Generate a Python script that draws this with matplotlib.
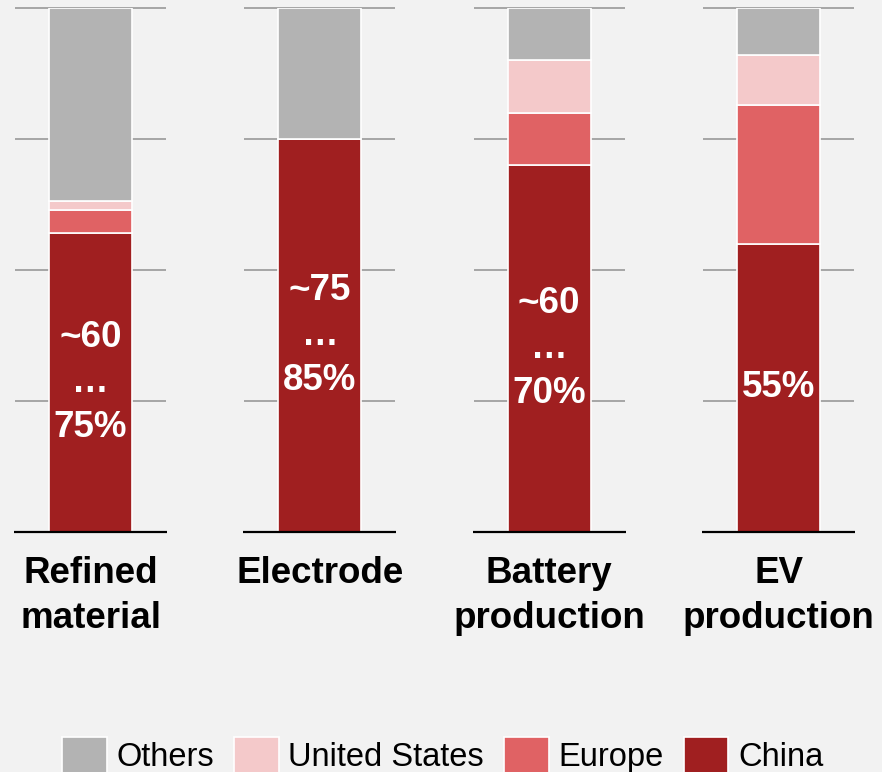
import numpy as np
import matplotlib.pyplot as plt
from matplotlib.patches import Patch

# share of each production step by region (% of global total)
categories = ["Refined\nmaterial", "Electrode", "Battery\nproduction", "EV\nproduction"]
china = [57, 75, 70, 55]
europe = [4.5, 0, 10, 26.5]
united_states = [1.7, 0, 10, 9.5]
others = [36.8, 25, 10, 9]
china_labels = ["~60\n\u2026\n75%", "~75\n\u2026\n85%", "~60\n\u2026\n70%", "55%"]
grid_levels = [25, 50, 75, 100]

series_names = ["Others", "United States", "Europe", "China"]
colors = {"China": "#a01f20", "Europe": "#e06264",
          "United States": "#f4c9ca", "Others": "#b3b3b3"}
bg = "#f2f2f2"

plt.rcParams['font.family'] = ['Liberation Sans', 'DejaVu Sans']

fig = plt.figure(figsize=(8.82, 7.72), dpi=100, facecolor=bg)
ax = fig.add_axes([0, 0.3109, 1, 0.6788], facecolor=bg)

x = np.arange(len(categories))
bar_w = 0.362
stub = 0.329

# short gridline stubs beside each bar, black base line underneath
for xi in x:
  ax.hlines(grid_levels, xi - stub, xi + stub, color="#999999", lw=1.2,
            zorder=1, clip_on=False)
  ax.hlines(0, xi - stub - 0.005, xi + stub + 0.005, color="black", lw=1.6,
            zorder=4, clip_on=False)

stack = [("China", china), ("Europe", europe),
         ("United States", united_states), ("Others", others)]
bottom = np.zeros(len(categories))
for name, vals in stack:
  vals = np.array(vals, dtype=float)
  ax.bar(x, vals, bar_w, bottom=bottom, color=colors[name],
         edgecolor="white", linewidth=1.2, zorder=2)
  bottom += vals

for xi, val, lab in zip(x, china, china_labels):
  ax.text(xi, val / 2, lab, ha="center", va="center", color="white",
          fontsize=26.5, fontweight="bold", zorder=3, linespacing=1.38)

ax.set_xlim(-0.3946, 3.451)
ax.set_ylim(0, 100)
ax.set_xticks(x)
ax.set_xticklabels(categories, fontsize=26.5, fontweight="bold",
                   linespacing=1.38)
ax.tick_params(axis="x", length=0, pad=17)
ax.set_yticks([])
for s in ax.spines.values():
  s.set_visible(False)

handles = [Patch(facecolor=colors[n], edgecolor="white", linewidth=1.2)
           for n in series_names]
fig.legend(handles, series_names, loc="center", ncol=4,
           bbox_to_anchor=(0.502, 0.022), bbox_transform=fig.transFigure,
           frameon=False, fontsize=23.5, handlelength=1.36,
           handleheight=1.36, handletextpad=0.3, columnspacing=0.62,
           borderpad=0)

fig.savefig("out.png", dpi=100, facecolor=bg)
